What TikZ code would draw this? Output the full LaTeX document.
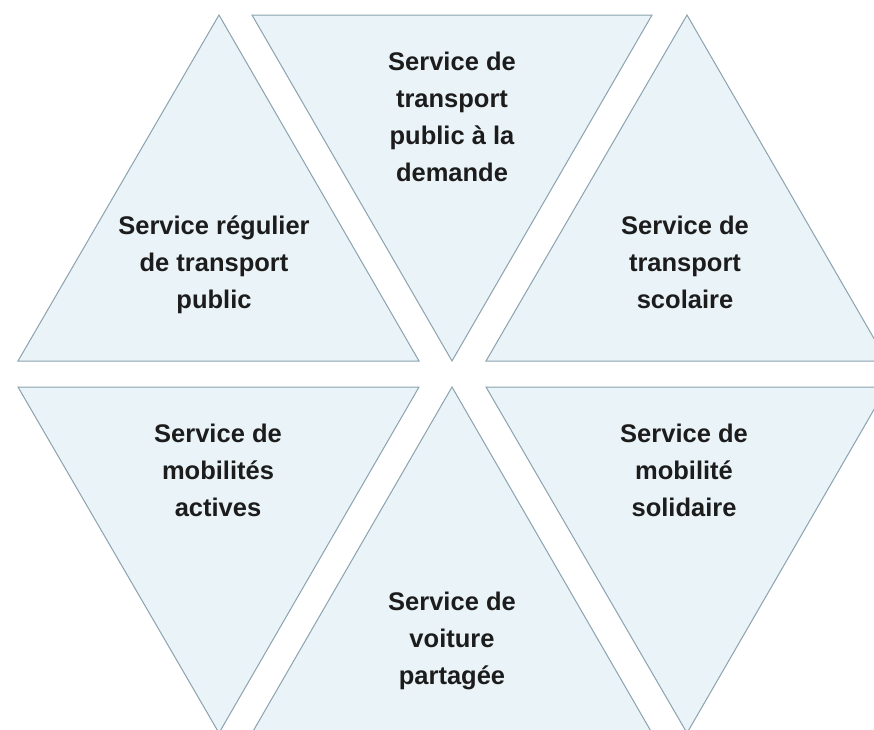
\documentclass[tikz,border=0pt]{standalone}
\usepackage{fontspec}
\setmainfont{Liberation Sans}
\definecolor{trifill}{HTML}{EAF3F8}
\definecolor{triline}{HTML}{8AA3AE}
\definecolor{txtcol}{HTML}{1C1C1C}
\tikzset{
  tri/.style={fill=trifill, draw=triline, line width=1pt},
  lbl/.style={align=center, inner sep=0pt, text=txtcol,
    font=\fontsize{25.5}{37}\selectfont\bfseries}
}
\begin{document}
\begin{tikzpicture}[x=1pt, y=-1pt]
        \useasboundingbox (0,0) rectangle (874,729);
        \begin{scope}
            \clip (0,0) rectangle (874,729);
            % upper row
            \draw[tri] (18,361) -- (219,15) -- (419,361) -- cycle;
            \draw[tri] (252,15) -- (652,15) -- (452,361) -- cycle;
            \draw[tri] (486,361) -- (687,15) -- (887,361) -- cycle;
            % lower row
            \draw[tri] (18,387) -- (419,387) -- (219,733) -- cycle;
            \draw[tri] (252,733) -- (452,387) -- (652,733) -- cycle;
            \draw[tri] (486,387) -- (887,387) -- (687,733) -- cycle;
        \end{scope}

        \node[lbl] (regulier)  at (214,265) {Service régulier\\de transport\\public};
        \node[lbl] (demande)   at (452,117) {Service de\\transport\\public à la\\demande};
        \node[lbl] (scolaire)  at (685,262) {Service de\\transport\\scolaire};
        \node[lbl] (actives)   at (218,470) {Service de\\mobilités\\actives};
        \node[lbl] (partagee)  at (452,641) {Service de\\voiture\\partagée};
        \node[lbl] (solidaire) at (684,470) {Service de\\mobilité\\solidaire};
    \end{tikzpicture}
\end{document}
